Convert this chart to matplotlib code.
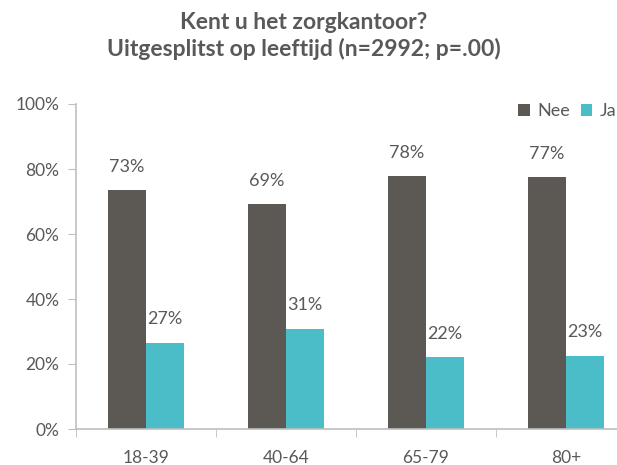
import numpy as np
import matplotlib.pyplot as plt
from matplotlib.ticker import FixedLocator, PercentFormatter

# data
categories = ["18-39", "40-64", "65-79", "80+"]
nee = [73.4, 69.1, 77.8, 77.4]
ja = [26.6, 30.9, 22.2, 22.6]

plt.rcParams['font.family'] = ['Lato', 'DejaVu Sans']
text_col = "#595959"
grey = "#5C5955"
teal = "#4BBDC9"
axis_col = "#BFBFBF"

fig = plt.figure(figsize=(6.17, 4.65), dpi=100)
ax = fig.add_axes([76 / 617, (465 - 429) / 465, 560 / 617, 325 / 465])

x = np.arange(len(categories))
w = 0.27
b1 = ax.bar(x - w / 2, nee, w, color=grey, label="Nee")
b2 = ax.bar(x + w / 2, ja, w, color=teal, label="Ja")

for bars, vals in [(b1, nee), (b2, ja)]:
    for bar, v in zip(bars, vals):
        ax.annotate(f"{round(v)}%", (bar.get_x() + bar.get_width() / 2, v),
                    xytext=(0, 11), textcoords="offset points",
                    ha="center", va="bottom", fontsize=13, color=text_col)

ax.set_xlim(-0.5, len(categories) - 0.5)
ax.set_ylim(0, 100)
ax.set_yticks(np.arange(0, 101, 20))
ax.yaxis.set_major_formatter(PercentFormatter(decimals=0))
ax.set_xticks(x)
ax.set_xticklabels(categories)
ax.xaxis.set_minor_locator(FixedLocator(np.arange(-0.5, len(categories), 1)))
ax.tick_params(axis="x", which="major", length=0, pad=15)
ax.tick_params(axis="x", which="minor", length=6, color=axis_col)
ax.tick_params(axis="y", length=6, color=axis_col, pad=6)
ax.tick_params(labelsize=12.5, labelcolor=text_col)

for s in ["top", "right"]:
    ax.spines[s].set_visible(False)
for s in ["left", "bottom"]:
    ax.spines[s].set_color(axis_col)
    ax.spines[s].set_linewidth(1.2)

fig.text(304 / 617, 1 - 36 / 465, "Kent u het zorgkantoor?\nUitgesplitst op leeftijd (n=2992; p=.00)",
         ha="center", va="center", fontsize=16.5, fontweight="bold", color=text_col,
         linespacing=1.3)

ax.legend(loc="upper left", bbox_to_anchor=(518 / 617, 1 - 103 / 465), bbox_transform=fig.transFigure,
          ncol=2, frameon=False, fontsize=13, labelcolor=text_col,
          handlelength=0.65, handleheight=0.65, handletextpad=0.4, columnspacing=0.6,
          borderaxespad=0, borderpad=0)

fig.savefig("out.png", dpi=100)
